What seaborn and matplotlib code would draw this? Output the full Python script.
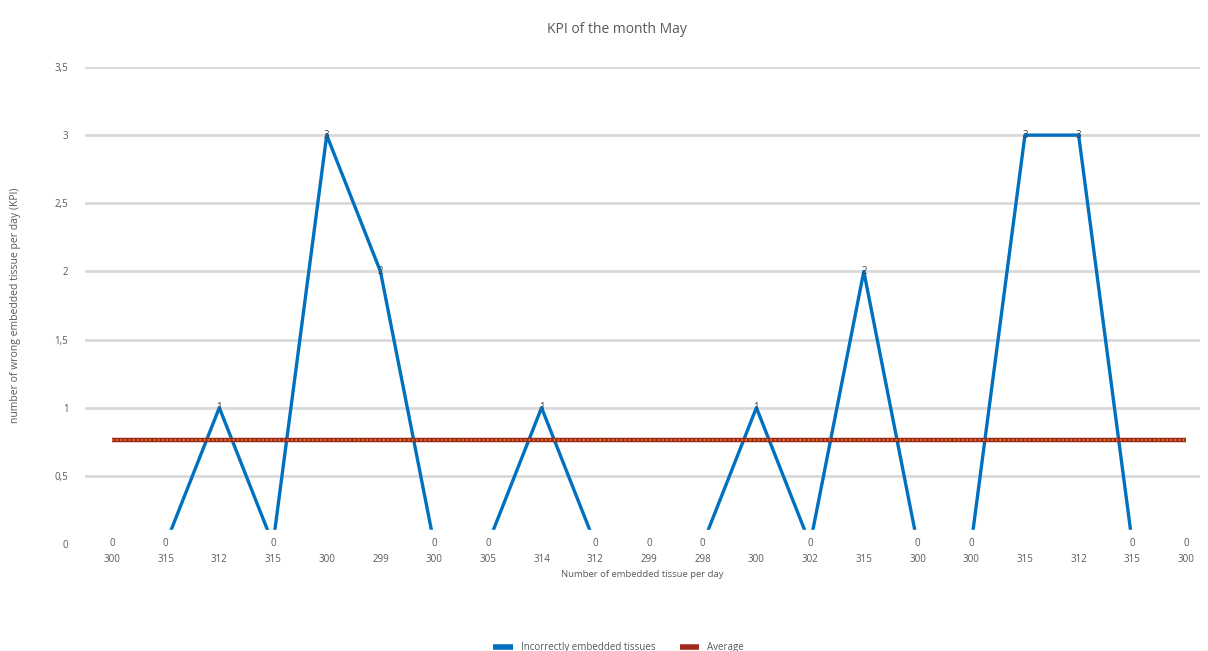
import matplotlib
matplotlib.use("Agg")
import matplotlib.pyplot as plt
import seaborn as sns
import pandas as pd
from matplotlib.lines import Line2D

# data
tissue_per_day = ["300", "315", "312", "315", "300", "299", "300", "305", "314", "312", "299",
                  "298", "300", "302", "315", "300", "300", "315", "312", "315", "300"]
wrong_embedded = [0, 0, 1, 0, 3, 2, 0, 0, 1, 0, 0, 0, 1, 0, 2, 0, 0, 3, 3, 0, 0]
y_ticks = [0, 0.5, 1, 1.5, 2, 2.5, 3, 3.5]
y_tick_labels = ["0", "0,5", "1", "1,5", "2", "2,5", "3", "3,5"]

BLUE = "#0070C0"
RED = "#9E2A1E"
ORANGE = "#E0901A"
GRID = "#D9D9D9"
TXT = "#595959"

sns.set_style("white")
plt.rcParams['font.family'] = ['Open Sans', 'DejaVu Sans']

df = pd.DataFrame({"day": range(len(wrong_embedded)), "kpi": wrong_embedded})
avg = sum(wrong_embedded) / len(wrong_embedded)

fig = plt.figure(figsize=(12.08, 6.51), dpi=100)
ax = fig.add_axes([0.0704, 0.1644, 0.923, 0.7327])

# gridlines (none at zero)
for yt in y_ticks[1:]:
    ax.axhline(yt, color=GRID, lw=2, zorder=0)

sns.lineplot(data=df, x="day", y="kpi", color=BLUE, lw=2.4, ax=ax, zorder=2)

# average line: dark red with an orange dotted pattern
ax.plot([0, len(wrong_embedded) - 1], [avg, avg], color=RED, lw=3.2, zorder=3,
        solid_capstyle="butt")
ax.plot([0, len(wrong_embedded) - 1], [avg, avg], color=ORANGE, lw=1.2, zorder=4,
        linestyle=(0, (1, 1.5)))

# white band hiding the bottom of the line behind the zero labels
ax.axhspan(0, 0.1, color="white", zorder=5)

for i, v in enumerate(wrong_embedded):
    if v == 0:
        ax.text(i, 0, "0", ha="center", va="center", fontsize=7, color=TXT, zorder=6)
    else:
        ax.text(i, v, str(v), ha="center", va="center", fontsize=7, color="#404040", zorder=6)

ax.set_xlim(-0.5, 20.26)
ax.set_ylim(0, 3.5)
ax.set_xticks(range(len(tissue_per_day)))
ax.set_xticklabels(tissue_per_day, fontsize=7, color=TXT)
ax.set_yticks(y_ticks)
ax.set_yticklabels(y_tick_labels, fontsize=7, color=TXT)
ax.tick_params(axis="both", length=0)
ax.tick_params(axis="x", pad=7)
ax.tick_params(axis="y", pad=12)
for s in ax.spines.values():
    s.set_visible(False)

ax.set_xlabel("Number of embedded tissue per day", fontsize=6.8, color=TXT, labelpad=4)
ax.set_ylabel("number of wrong embedded tissue per day (KPI)", fontsize=7.5, color=TXT, labelpad=24)
fig.text(0.511, 0.955, "KPI of the month May", ha="center", va="center", fontsize=10, color=TXT)

handles = [Line2D([0], [0], color=BLUE, lw=4, solid_capstyle="butt"),
           Line2D([0], [0], color=RED, lw=4, solid_capstyle="butt")]
fig.legend(handles, ["Incorrectly embedded tissues", "Average"], loc="center",
           bbox_to_anchor=(0.512, 0.005), ncol=2, frameon=False, fontsize=7,
           labelcolor=TXT, handlelength=2.0, columnspacing=2.5)

fig.savefig("out.png", dpi=100)
